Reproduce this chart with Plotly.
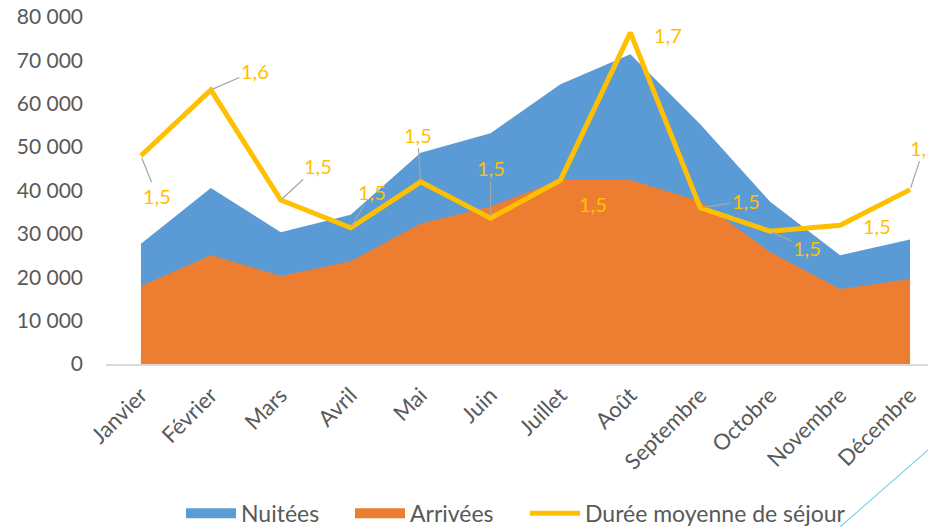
import plotly.graph_objects as go

months = ["Janvier", "Février", "Mars", "Avril", "Mai", "Juin", "Juillet", "Août",
          "Septembre", "Octobre", "Novembre", "Décembre"]
nuitees = [27700, 40600, 30400, 34400, 48700, 53200, 64500, 71400, 55300, 37400, 25100, 28700]
arrivees = [18000, 25100, 20300, 23700, 32400, 36300, 42500, 42400, 37500, 25800, 17300, 19600]
duree = [1.540, 1.616, 1.489, 1.457, 1.510, 1.468, 1.512, 1.682, 1.480, 1.453, 1.460, 1.501]
yticks = [0, 10000, 20000, 30000, 40000, 50000, 60000, 70000, 80000]

# label offsets (pixels) and whether a leader line is drawn
label_dx = [16, 44, 37, 21, -3, 0, 33, 38, 46, 37, 37, 14]
label_dy = [40, -19, -34, -36, -47, -50, 24, 2, -7, 17, 1, -42]
leader = [True, True, True, True, True, True, False, False, True, True, False, True]

BLUE = "#5B9BD5"
ORANGE = "#ED7D31"
YELLOW = "#FFC000"
GREY = "#595959"
FONT = "Lato"

fig = go.Figure()
fig.add_trace(go.Scatter(x=months, y=nuitees, name="Nuitées", mode="lines",
                         fill="tozeroy", fillcolor=BLUE, line=dict(width=0, color=BLUE),
                         showlegend=False))
fig.add_trace(go.Scatter(x=months, y=arrivees, name="Arrivées", mode="lines",
                         fill="tozeroy", fillcolor=ORANGE, line=dict(width=0, color=ORANGE),
                         showlegend=False))
fig.add_trace(go.Scatter(x=months, y=duree, name="Durée moyenne de séjour", mode="lines",
                         line=dict(width=5, color=YELLOW), yaxis="y2", legend="legend3"))
# legend swatches (square blocks like the reference)
fig.add_trace(go.Scatter(x=[None], y=[None], name="Nuitées", mode="lines",
                         line=dict(width=15, color=BLUE), legend="legend"))
fig.add_trace(go.Scatter(x=[None], y=[None], name="Arrivées", mode="lines",
                         line=dict(width=15, color=ORANGE), legend="legend2"))

annotations = []
for m, v, dx, dy, ld in zip(months, duree, label_dx, label_dy, leader):
    txt = f"{v:.1f}".replace(".", ",")
    if ld:
        annotations.append(dict(x=m, y=v, xref="x", yref="y2", text=txt, showarrow=True,
                                ax=dx, ay=dy, arrowhead=0, arrowwidth=1.2, arrowcolor="#A6A6A6",
                                standoff=2, font=dict(family=FONT, size=20, color=YELLOW)))
    else:
        annotations.append(dict(x=m, y=v, xref="x", yref="y2", text=txt, showarrow=False,
                                xshift=dx, yshift=-dy, font=dict(family=FONT, size=20, color=YELLOW)))


def legend_box(left_px):
    return dict(orientation="h", x=(left_px - 106) / 822, xanchor="left", y=-0.43,
                yanchor="middle", font=dict(family=FONT, size=23, color=GREY),
                itemwidth=50, bgcolor="rgba(0,0,0,0)")


fig.update_layout(
    width=928, height=527,
    margin=dict(l=106, r=0, t=17, b=163, autoexpand=False),
    paper_bgcolor="white", plot_bgcolor="white",
    separators=", ",
    font=dict(family=FONT, size=20, color=GREY),
    xaxis=dict(range=[-0.5, 11.257], showgrid=False, showline=True, linecolor="#D9D9D9",
               linewidth=1.5, tickangle=-45, ticks="outside", ticklen=8,
               tickcolor="rgba(0,0,0,0)", tickfont=dict(family=FONT, size=22, color=GREY),
               zeroline=False, automargin=False),
    yaxis=dict(range=[0, 80000], tickvals=yticks, tickformat=",d", showgrid=False,
               showline=False, zeroline=False, ticklabelstandoff=22, automargin=False,
               tickfont=dict(family=FONT, size=21, color=GREY)),
    yaxis2=dict(range=[1.3, 1.7], overlaying="y", side="right", visible=False,
                automargin=False),
    legend=legend_box(181),
    legend2=legend_box(350),
    legend3=legend_box(525),
    annotations=annotations,
    shapes=[dict(type="line", xref="paper", yref="paper", x0=(840 - 106) / 822,
                 y0=(364 - 527) / 347, x1=1.0, y1=(364 - 450) / 347,
                 line=dict(color="#7FD3EA", width=1.2))],
    showlegend=True,
)

fig.write_html("out.html", config={"displayModeBar": False},
               post_script="document.body.style.margin='0';document.body.style.overflow='hidden';")
